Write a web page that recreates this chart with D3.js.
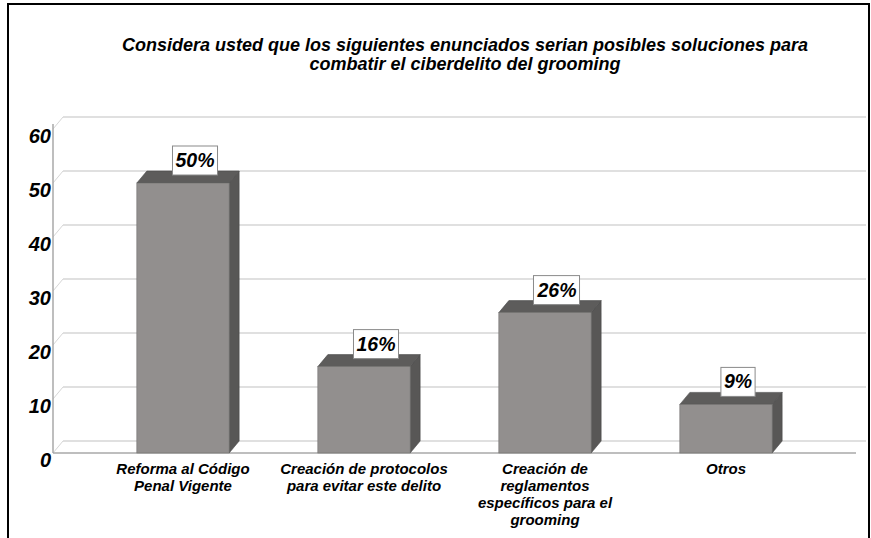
<!DOCTYPE html>
<html>
<head>
<meta charset="utf-8">
<script src="https://cdn.jsdelivr.net/npm/d3@7"></script>
<style>
html,body{margin:0;padding:0;background:#fff;}
svg{display:block;}
text{font-family:"Liberation Sans",Arial,sans-serif;font-weight:bold;font-style:italic;fill:#000;}
</style>
</head>
<body>
<svg id="chart" width="871" height="538"></svg>
<script>
const title = [
  "Considera usted que los siguientes enunciados serian posibles soluciones para",
  "combatir el ciberdelito del grooming"
];
const categories = [
  "Reforma al Código Penal Vigente",
  "Creación de protocolos para evitar este delito",
  "Creación de reglamentos específicos para el grooming",
  "Otros"
];
const categoryLines = [
  ["Reforma al Código", "Penal Vigente"],
  ["Creación de protocolos", "para evitar este delito"],
  ["Creación de", "reglamentos", "específicos para el", "grooming"],
  ["Otros"]
];
const values = [50, 16, 26, 9];
const valueLabels = ["50%", "16%", "26%", "9%"];
const yTicks = [0, 10, 20, 30, 40, 50, 60];

const svg = d3.select("#chart");

// outer frame
svg.append("rect").attr("x", 8).attr("y", 4).attr("width", 861).attr("height", 560)
  .attr("fill", "none").attr("stroke", "#000").attr("stroke-width", 2);

// title
svg.append("text").attr("x", 465).attr("y", 51).attr("text-anchor", "middle")
  .style("font-size", "18px")
  .selectAll("tspan").data(title).join("tspan")
  .attr("x", 465).attr("dy", (d, i) => i === 0 ? 0 : 19).text(d => d);

const DX = 10, DY = -12;
const y = d3.scaleLinear().domain([0, 60]).range([453, 129]);
const x = d3.scaleBand().domain(categories).range([92.5, 816.5]).padding(0);
const barW = x.bandwidth() * 0.51;
const xLeft = 53, xRight = 856;

// back wall gridlines
const grid = svg.append("g");
yTicks.forEach(t => {
  grid.append("line").attr("x1", xLeft + DX).attr("x2", xRight + DX)
    .attr("y1", y(t) + DY).attr("y2", y(t) + DY)
    .attr("stroke", "#d6d6d6").attr("stroke-width", 1.5);
  grid.append("line").attr("x1", xLeft).attr("x2", xLeft + DX)
    .attr("y1", y(t)).attr("y2", y(t) + DY)
    .attr("stroke", "#d6d6d6").attr("stroke-width", 1);
});
// left axis and front baseline
svg.append("line").attr("x1", xLeft).attr("x2", xLeft).attr("y1", y(60) - 5).attr("y2", y(0))
  .attr("stroke", "#a8a8a8").attr("stroke-width", 1.5);
svg.append("line").attr("x1", xLeft).attr("x2", xRight).attr("y1", y(0)).attr("y2", y(0))
  .attr("stroke", "#a8a8a8").attr("stroke-width", 1.5);

// y tick labels
svg.append("g").selectAll("text").data(yTicks).join("text")
  .attr("x", 51).attr("y", d => y(d) + 14).attr("text-anchor", "end")
  .style("font-size", "20px").text(d => d);

// bars
const bars = svg.append("g").selectAll("g").data(values).join("g");
bars.each(function(v, i) {
  const g = d3.select(this);
  const cx = x(categories[i]) + x.bandwidth() / 2;
  const x0 = cx - barW / 2, x1 = cx + barW / 2;
  const yt = y(v), yb = y(0);
  g.append("path").attr("d", `M${x1},${yt}L${x1 + DX},${yt + DY}L${x1 + DX},${yb + DY}L${x1},${yb}Z`)
    .attr("fill", "#585756").attr("stroke", "#4a4a4a").attr("stroke-width", 0.6);
  g.append("path").attr("d", `M${x0},${yt}L${x0 + DX},${yt + DY}L${x1 + DX},${yt + DY}L${x1},${yt}Z`)
    .attr("fill", "#5d5c5b").attr("stroke", "#4a4a4a").attr("stroke-width", 0.6);
  g.append("rect").attr("x", x0).attr("y", yt).attr("width", barW).attr("height", yb - yt)
    .attr("fill", "#928f8e").attr("stroke", "#6f6e6d").attr("stroke-width", 0.6);
});

// value labels
const labs = svg.append("g").selectAll("g").data(values).join("g");
labs.each(function(v, i) {
  const g = d3.select(this);
  const cx = x(categories[i]) + x.bandwidth() / 2 + 12;
  const bottom = y(v) - 8;
  const t = g.append("text").attr("x", cx).attr("y", bottom - 8).attr("text-anchor", "middle")
    .style("font-size", "19.5px").text(valueLabels[i]);
  const bb = t.node().getBBox();
  g.insert("rect", "text").attr("x", bb.x - 3).attr("y", bottom - 29).attr("width", bb.width + 6)
    .attr("height", 29).attr("fill", "#fff").attr("stroke", "#8a8a8a").attr("stroke-width", 1);
});

// category labels
const cl = svg.append("g").selectAll("text").data(categoryLines).join("text")
  .attr("text-anchor", "middle").style("font-size", "15px");
cl.each(function(lines, i) {
  const cx = x(categories[i]) + x.bandwidth() / 2;
  d3.select(this).selectAll("tspan").data(lines).join("tspan")
    .attr("x", cx).attr("y", (d, j) => 474 + j * 17).text(d => d);
});
</script>
</body>
</html>
